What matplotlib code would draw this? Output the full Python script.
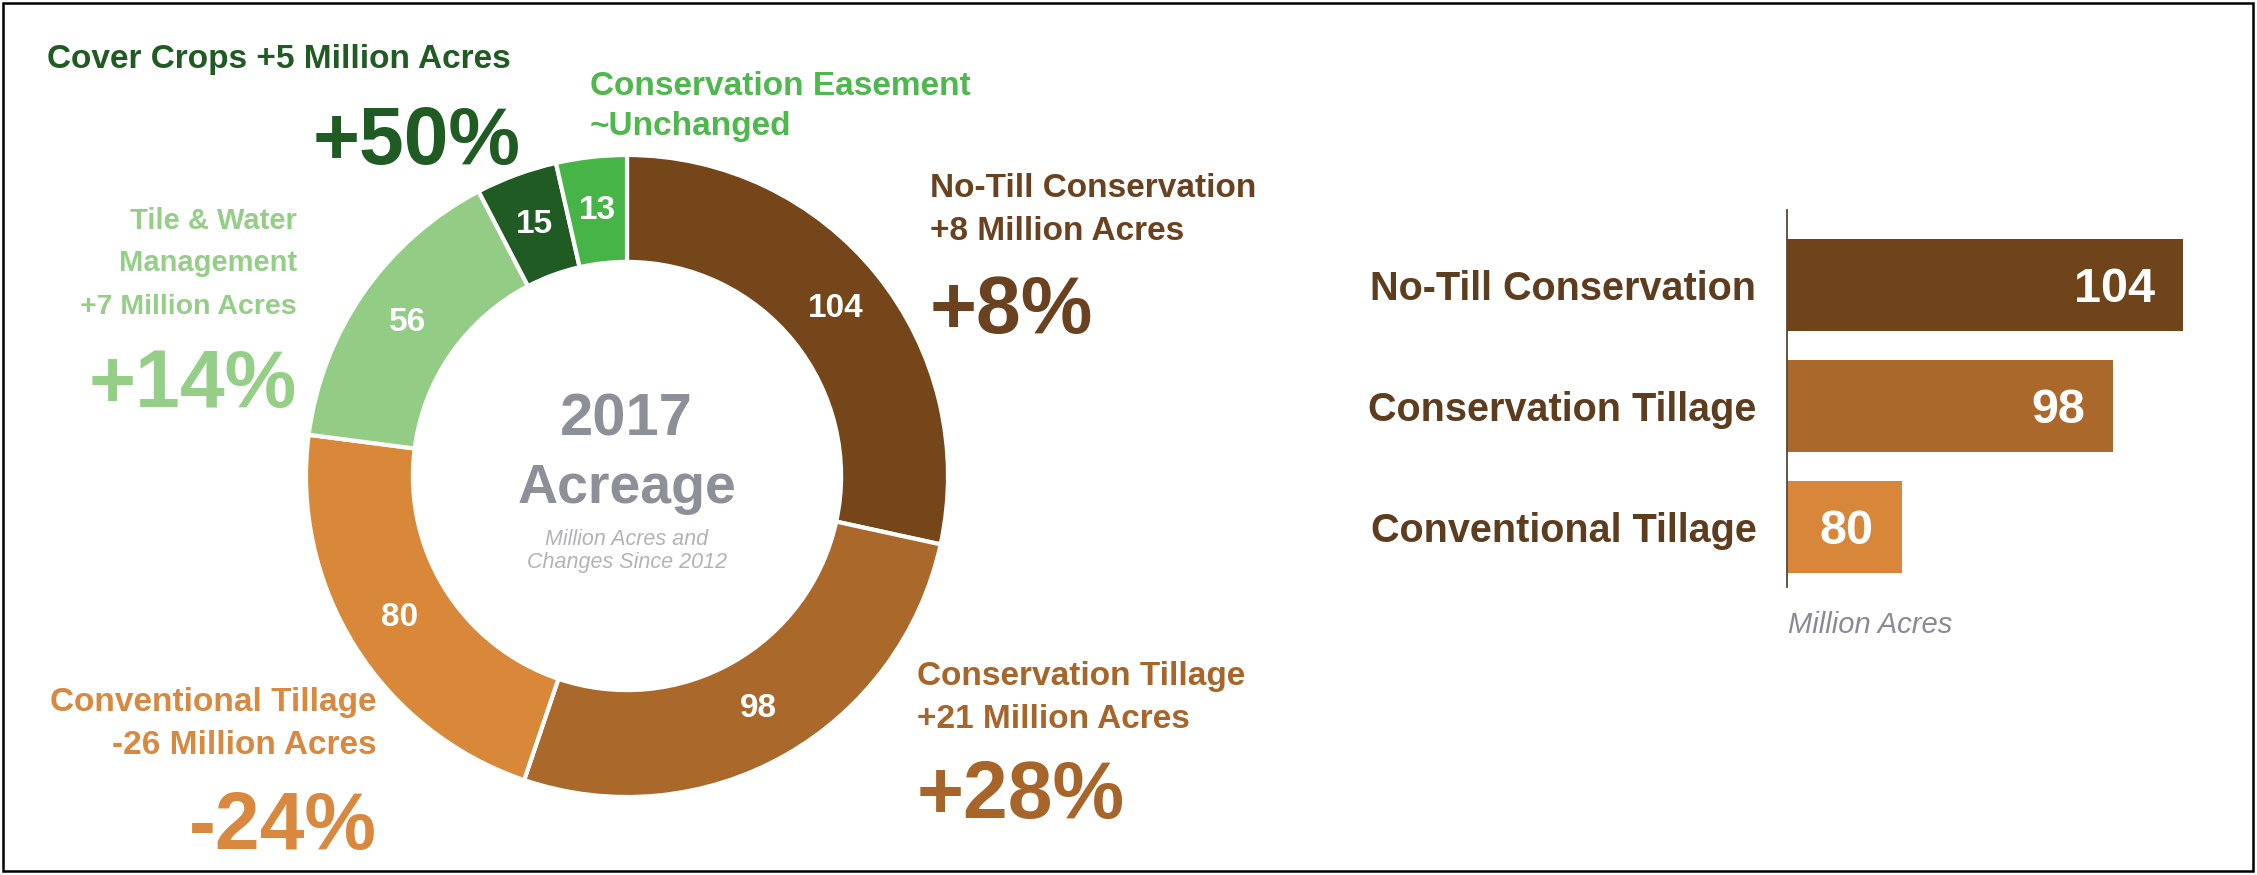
import matplotlib
matplotlib.use("Agg")
import matplotlib.pyplot as plt
from matplotlib.patches import Rectangle
import numpy as np

W, H, DPI = 2257, 875, 100

# 2017 acreage by practice (million acres) and change since 2012
practices = ["No-Till Conservation", "Conservation Tillage", "Conventional Tillage",
             "Tile & Water Management", "Cover Crops", "Conservation Easement"]
acres_2017 = [104, 98, 80, 56, 15, 13]
change_acres = [8, 21, -26, 7, 5, 0]
change_pct = [8, 28, -24, 14, 50, 0]

# tillage comparison bars
tillage = ["No-Till Conservation", "Conservation Tillage", "Conventional Tillage"]
tillage_acres = [104, 98, 80]

seg_colors = ["#744619", "#AB682B", "#D98739", "#93CD85", "#1F5B23", "#46B446"]
text_colors = ["#6B4220", "#A8652A", "#D8883F", "#95CE87", "#1F5B23", "#4DB84B"]
bar_colors = ["#70441A", "#AA682B", "#D8863A"]

FONT = "Liberation Sans"
plt.rcParams["font.family"] = [FONT, "DejaVu Sans"]

fig = plt.figure(figsize=(W / DPI, H / DPI), dpi=DPI)
fig.patch.set_facecolor("white")

# overlay axes in pixel coordinates for free text and the frame
ax_t = fig.add_axes([0, 0, 1, 1])
ax_t.set_xlim(0, W)
ax_t.set_ylim(H, 0)
ax_t.axis("off")
ax_t.add_patch(Rectangle((3, 3), W - 7, H - 7, fill=False, edgecolor="black", lw=1.8))

# ---- donut ----
cx, cy, R = 627, 476, 321
pad = 1.04
ax_d = fig.add_axes([(cx - R * pad) / W, (H - cy - R * pad) / H, 2 * R * pad / W, 2 * R * pad / H])
ring_w = 0.333
wedges, _ = ax_d.pie(acres_2017, colors=seg_colors, startangle=90, counterclock=False,
                     radius=1, wedgeprops=dict(width=ring_w, edgecolor="white", linewidth=3))
ax_d.set_xlim(-pad, pad)
ax_d.set_ylim(-pad, pad)
ax_d.set_aspect("equal")

total = sum(acres_2017)
cum = 0
r_mid = 1 - ring_w / 2
for v in acres_2017:
    ang = np.deg2rad(90 - 360 * (cum + v / 2) / total)
    ax_d.text(r_mid * np.cos(ang), r_mid * np.sin(ang), str(v), ha="center", va="center",
              color="white", fontsize=24, fontweight="bold")
    cum += v

# centre title
ax_t.text(626, 435, "2017", ha="center", va="baseline", fontsize=43, fontweight="bold", color="#8E9099")
ax_t.text(627, 503, "Acreage", ha="center", va="baseline", fontsize=40, fontweight="bold", color="#8E9099")
ax_t.text(627, 545, "Million Acres and", ha="center", va="baseline", fontsize=15.5, style="italic", color="#B2B2BA")
ax_t.text(627, 568, "Changes Since 2012", ha="center", va="baseline", fontsize=15.5, style="italic", color="#B2B2BA")


def change_line(c):
    return f"{c:+d} Million Acres"


def pct_text(p):
    return f"{p:+d}%"


LBL = 24
PCT = 58

# Cover Crops
ax_t.text(47, 68, f"{practices[4]} {change_line(change_acres[4])}", ha="left", va="baseline",
          fontsize=LBL, fontweight="bold", color=text_colors[4])
ax_t.text(521, 164, pct_text(change_pct[4]), ha="right", va="baseline",
          fontsize=PCT, fontweight="bold", color=text_colors[4])

# Conservation Easement
ax_t.text(590, 95, practices[5], ha="left", va="baseline", fontsize=LBL, fontweight="bold", color=text_colors[5])
ax_t.text(590, 135, "~Unchanged", ha="left", va="baseline", fontsize=LBL, fontweight="bold", color=text_colors[5])

# Tile & Water Management
ax_t.text(297, 229, "Tile & Water", ha="right", va="baseline", fontsize=21, fontweight="bold", color=text_colors[3])
ax_t.text(297, 271, "Management", ha="right", va="baseline", fontsize=21, fontweight="bold", color=text_colors[3])
ax_t.text(297, 314, change_line(change_acres[3]), ha="right", va="baseline", fontsize=20.5,
          fontweight="bold", color=text_colors[3])
ax_t.text(297, 407, pct_text(change_pct[3]), ha="right", va="baseline", fontsize=PCT,
          fontweight="bold", color=text_colors[3])

# No-Till Conservation
ax_t.text(930, 197, practices[0], ha="left", va="baseline", fontsize=LBL, fontweight="bold", color=text_colors[0])
ax_t.text(930, 240, change_line(change_acres[0]), ha="left", va="baseline", fontsize=LBL,
          fontweight="bold", color=text_colors[0])
ax_t.text(930, 333, pct_text(change_pct[0]), ha="left", va="baseline", fontsize=PCT,
          fontweight="bold", color=text_colors[0])

# Conservation Tillage
ax_t.text(917, 685, practices[1], ha="left", va="baseline", fontsize=LBL, fontweight="bold", color=text_colors[1])
ax_t.text(917, 728, change_line(change_acres[1]), ha="left", va="baseline", fontsize=LBL,
          fontweight="bold", color=text_colors[1])
ax_t.text(917, 818, pct_text(change_pct[1]), ha="left", va="baseline", fontsize=PCT,
          fontweight="bold", color=text_colors[1])

# Conventional Tillage
ax_t.text(377, 711, practices[2], ha="right", va="baseline", fontsize=LBL, fontweight="bold", color=text_colors[2])
ax_t.text(377, 754, change_line(change_acres[2]), ha="right", va="baseline", fontsize=LBL,
          fontweight="bold", color=text_colors[2])
ax_t.text(377, 849, pct_text(change_pct[2]), ha="right", va="baseline", fontsize=PCT,
          fontweight="bold", color=text_colors[2])

# ---- tillage bars ----
x_left_px, x_unit = 1787, 11.71
x_min, x_max = 70.2, 108
y_top, y_bot = 210, 587
ax_b = fig.add_axes([x_left_px / W, (H - y_bot) / H, (x_max - x_min) * x_unit / W, (y_bot - y_top) / H])
ypos = list(range(len(tillage)))
ax_b.barh(ypos, tillage_acres, height=0.76, color=bar_colors)
ax_b.set_xlim(x_min, x_max)
ax_b.set_ylim(2.5, -0.62)
for s in ["top", "right", "bottom"]:
    ax_b.spines[s].set_visible(False)
ax_b.spines["left"].set_color("#5A4632")
ax_b.spines["left"].set_linewidth(1.3)
ax_b.set_xticks([])
ax_b.set_yticks(ypos)
ax_b.set_yticklabels(tillage, fontsize=28.5, fontweight="bold", color="#5E3C1E")
ax_b.tick_params(axis="y", length=0, pad=22)
ax_b.patch.set_alpha(0)
for y, v in zip(ypos, tillage_acres):
    ax_b.annotate(str(v), (v, y), xytext=(-20, 0), textcoords="offset points", ha="right",
                  va="center_baseline", color="white", fontsize=35, fontweight="bold")

ax_t.text(1788, 633, "Million Acres", ha="left", va="baseline", fontsize=21, style="italic", color="#8A8A94")

fig.savefig("out.png", dpi=DPI, facecolor="white")
